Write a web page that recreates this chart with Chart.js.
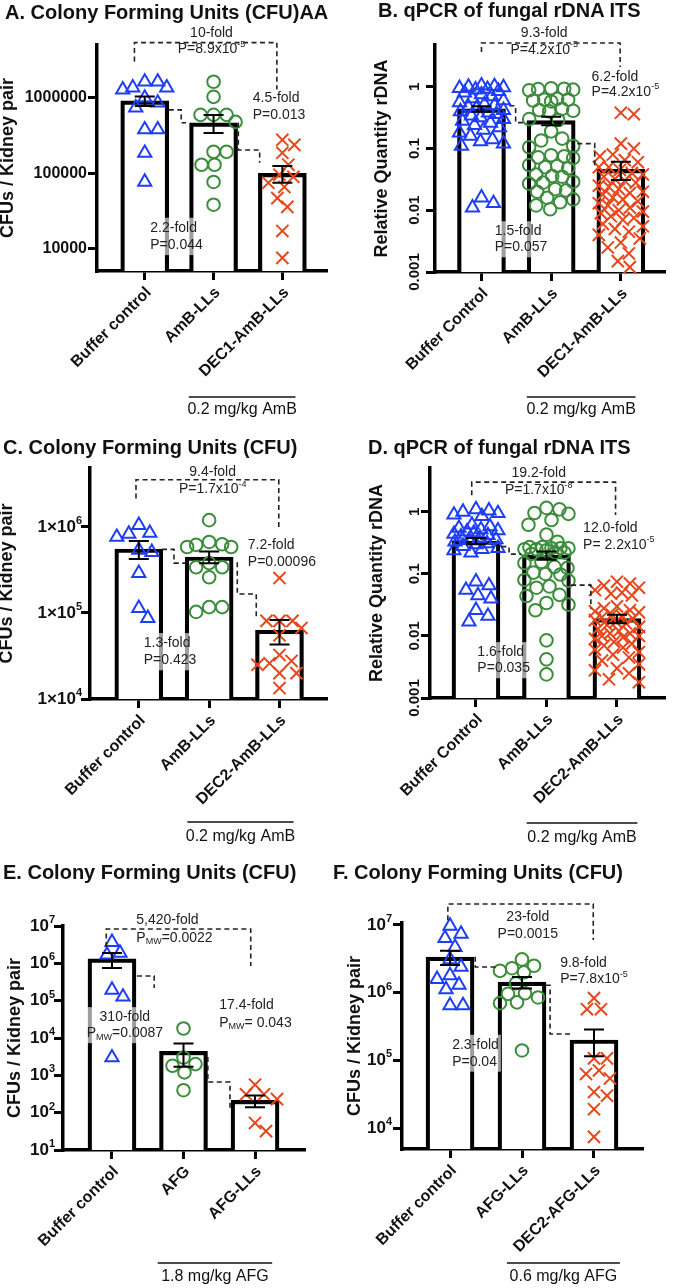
<!DOCTYPE html>
<html>
<head>
<meta charset="utf-8">
<script src="https://cdn.jsdelivr.net/npm/chart.js@4.4.0/dist/chart.umd.min.js"></script>
<style>
  body { margin:0; background:#fff; width:675px; height:1288px; position:relative; overflow:hidden;
         font-family:"Liberation Sans", Arial, sans-serif; }
  canvas { position:absolute; }
  .ttl { position:absolute; z-index:2; font-weight:bold; font-size:20px; line-height:20px; color:#111; white-space:nowrap; }
</style>
</head>
<body>
<div class="ttl" style="left:5px;top:2px">A. Colony Forming Units (CFU)AA</div>
<div class="ttl" style="left:378px;top:0px">B. qPCR of fungal rDNA ITS</div>
<div class="ttl" style="left:3px;top:437px">C. Colony Forming Units (CFU)</div>
<div class="ttl" style="left:368px;top:437px">D. qPCR of fungal rDNA ITS</div>
<div class="ttl" style="left:3px;top:862px">E. Colony Forming Units (CFU)</div>
<div class="ttl" style="left:333px;top:862px">F. Colony Forming Units (CFU)</div>
<script>
// ---- data ----
const catsA = ['Buffer control', 'AmB-LLs', 'DEC1-AmB-LLs'];
const blueA = [1.63e6, 1.63e6, 1.36e6, 1.36e6, 1.28e6, 1.0e6, 8.6e5, 7.4e5, 3.8e5, 3.8e5, 1.86e5, 7.7e4];
const greenA = [1.63e6, 1.03e6, 5.95e5, 5.95e5, 5.95e5, 4.8e5, 1.93e5, 1.93e5, 1.3e5, 1.3e5, 7.7e4, 3.85e4];
const redA = [2.78e5, 2.38e5, 1.87e5, 1.3e5, 9.6e4, 9.0e4, 7.5e4, 6.6e4, 4.7e4, 3.6e4, 1.73e4, 7.6e3];
const meanA = [9.1e5, 4.66e5, 1.0e5];
const semA = [1.3e5, 1.25e5, 2.5e4];
const yTicksA = [1e4, 1e5, 1e6];

const catsB = ['Buffer Control', 'AmB-LLs', 'DEC1-AmB-LLs'];
const blueB = [1.05, 1.02, 1.0, 0.98, 0.95, 0.92, 0.9, 0.85, 0.8, 0.75, 0.7, 0.65, 0.6, 0.56, 0.52, 0.5, 0.47, 0.45,
  0.42, 0.4, 0.38, 0.36, 0.34, 0.32, 0.3, 0.28, 0.26, 0.24, 0.22, 0.2, 0.18, 0.16, 0.14, 0.13, 0.12, 0.11, 0.016, 0.013, 0.011];
const greenB = [0.95, 0.93, 0.92, 0.9, 0.88, 0.64, 0.62, 0.62, 0.6, 0.58, 0.44, 0.42, 0.41, 0.4, 0.3, 0.29, 0.19, 0.145,
  0.135, 0.11, 0.105, 0.078, 0.075, 0.072, 0.07, 0.054, 0.052, 0.05, 0.048, 0.038, 0.036, 0.035, 0.029, 0.028, 0.027,
  0.022, 0.021, 0.02, 0.016, 0.015, 0.0135, 0.012, 0.0104];
const redB = [0.38, 0.36, 0.12, 0.1, 0.08, 0.075, 0.065, 0.06, 0.05, 0.05, 0.045, 0.04, 0.038, 0.035, 0.032, 0.03, 0.028,
  0.025, 0.024, 0.022, 0.02, 0.019, 0.018, 0.016, 0.015, 0.014, 0.013, 0.012, 0.011, 0.01, 0.0095, 0.009, 0.008, 0.0075,
  0.007, 0.006, 0.0055, 0.005, 0.0045, 0.004, 0.0035, 0.003, 0.0025, 0.002, 0.0015, 0.0012];
const meanB = [0.44, 0.283, 0.046];
const semB = [0.045, 0.045, 0.015];
const yTicksB = [0.001, 0.01, 0.1, 1];

const catsC = ['Buffer control', 'AmB-LLs', 'DEC2-AmB-LLs'];
const blueC = [1.05e6, 8.5e5, 8.3e5, 7.65e5, 5.4e5, 5.1e5, 2.9e5, 1.14e5, 8.7e4];
const greenC = [1.2e6, 6.7e5, 6.3e5, 6.2e5, 5.85e5, 5.85e5, 3.8e5, 3.4e5, 3.4e5, 2.6e5, 1.17e5, 1.17e5, 1.03e5];
const redC = [2.55e5, 8.1e4, 8.1e4, 8.1e4, 6.7e4, 5.5e4, 3.25e4, 2.77e4, 2.6e4, 2.5e4, 2.0e4, 2.0e4, 1.34e4];
const meanC = [5.55e5, 4.48e5, 6.3e4];
const semC = [1.3e5, 7.0e4, 2.0e4];
const yTicksC = [1e4, 1e5, 1e6];

const catsD = ['Buffer Control', 'AmB-LLs', 'DEC2-AmB-LLs'];
const blueD = [1.1, 1.05, 1.0, 0.95, 0.9, 0.85, 0.62, 0.58, 0.55, 0.52, 0.5, 0.48, 0.46, 0.44, 0.42, 0.4, 0.38, 0.36,
  0.35, 0.33, 0.31, 0.3, 0.28, 0.26, 0.25, 0.24, 0.22, 0.075, 0.065, 0.055, 0.045, 0.04, 0.026, 0.021, 0.017];
const greenD = [1.16, 1.1, 0.96, 0.93, 0.74, 0.62, 0.43, 0.33, 0.27, 0.27, 0.26, 0.26, 0.26, 0.25, 0.25, 0.24, 0.22,
  0.22, 0.21, 0.156, 0.15, 0.13, 0.125, 0.105, 0.1, 0.098, 0.08, 0.078, 0.063, 0.06, 0.046, 0.044, 0.034, 0.032, 0.026,
  0.0085, 0.0042, 0.0024];
const redD = [0.075, 0.07, 0.065, 0.06, 0.055, 0.05, 0.048, 0.045, 0.03, 0.028, 0.026, 0.025, 0.024, 0.022, 0.021, 0.02,
  0.019, 0.018, 0.017, 0.016, 0.015, 0.014, 0.013, 0.012, 0.011, 0.011, 0.01, 0.01, 0.0095, 0.009, 0.008, 0.0075, 0.007,
  0.0065, 0.006, 0.0055, 0.005, 0.0045, 0.004, 0.0035, 0.003, 0.0028, 0.0025, 0.002, 0.0018];
const meanD = [0.34, 0.2, 0.019];
const semD = [0.04, 0.03, 0.003];
const yTicksD = [0.001, 0.01, 0.1, 1];

const catsE = ['Buffer control', 'AFG', 'AFG-LLs'];
const blueE = [3.7e6, 1.9e6, 1.7e6, 1.95e5, 1.27e5, 3.0e3];
const greenE = [1.8e4, 3.0e3, 2.0e3, 1.8e3, 1.2e3, 400];
const redE = [560, 310, 310, 230, 53, 32];
const meanE = [1.32e6, 4.4e3, 215];
const semE = [5.7e5, 2.7e3, 75];
const yTicksE = [1e1, 1e2, 1e3, 1e4, 1e5, 1e6, 1e7];

const catsF = ['Buffer control', 'AFG-LLs', 'DEC2-AFG-LLs'];
const blueF = [9.7e6, 7.4e6, 6.4e6, 4.7e6, 3.1e6, 2.4e6, 1.8e6, 1.58e6, 1.3e6, 1.12e6, 6.5e5, 6.5e5];
const greenF = [3.1e6, 2.5e6, 2.3e6, 2.1e6, 2.0e6, 1.38e6, 9.8e5, 9.6e5, 8.5e5, 7.2e5, 7.0e5, 1.4e5];
const redF = [8.3e5, 5.7e5, 5.7e5, 1.07e5, 1.07e5, 7.1e4, 6.3e4, 5.4e4, 3.4e4, 3.0e4, 1.9e4, 7.4e3];
const meanF = [3.36e6, 1.43e6, 2.0e5];
const semF = [8.0e5, 2.8e5, 8.5e4];
const yTicksF = [1e4, 1e5, 1e6, 1e7];

// ---- look ----
const FONT = '"Liberation Sans", Arial, Helvetica, sans-serif';
const INK = '#111';
const MARKS = [
  {style: 'triangle', color: '#1e3ef6', r: 7.6},
  {style: 'circle', color: '#3b8d3b', r: 6.3},
  {style: 'crossRot', color: '#e6471c', r: 8.6}
];
const YW = 9, XH = 12;
Chart.defaults.font.family = FONT;

// panel layout + annotations; annotation y values are log10 of the data value
const panels = [
  {box: [0, 0, 337, 420], area: [97, 45, 337, 271], xr: [-0.694, 2.64], yr: [5.1e3, 5.0e6],
   cats: catsA, groups: [blueA, greenA, redA], means: meanA, sems: semA, ticks: yTicksA, fmt: 'plain', labOff: 10,
   yTitle: 'CFUs / Kidney pair', titleOff: 89,
   lines: [[[-0.15, 6.48], [-0.15, 6.73], [1.92, 6.73], [1.92, 6.11]],
           [[0.35, 5.84], [0.53, 5.84], [0.53, 5.67], [0.6, 5.67]],
           [[1.36, 5.67], [1.36, 5.31], [1.67, 5.31], [1.67, 5.14]]],
   texts: [{x: 0.97, y: [6.86, 6.64], t: ['10-fold', 'P=8.9x10^{-5}'], al: 'center'},
           {x: 1.57, y: [6.0, 5.77], t: ['4.5-fold', 'P=0.013'], al: 'left'},
           {x: 0.08, y: [4.28, 4.05], t: ['2.2-fold', 'P=0.044'], al: 'left', box: 1}],
   dose: {x: [0.64, 2.19], dl: 126, dt: 139, t: '0.2 mg/kg AmB'}},
  {box: [337, 0, 338, 420], area: [435, 45, 672, 272], xr: [-0.667, 2.625], yr: [1e-3, 4.76],
   cats: catsB, groups: [blueB, greenB, redB], means: meanB, sems: semB, ticks: yTicksB, fmt: 'rot', labOff: 20,
   yTitle: 'Relative Quantity rDNA', titleOff: 53,
   lines: [[[0, 0.565], [0, 0.71], [1.99, 0.71], [1.99, 0.32]],
           [[0.4, -0.306], [0.49, -0.306], [0.49, -0.58], [0.68, -0.58]],
           [[1.375, -0.92], [1.625, -0.92], [1.625, -1.31]]],
   texts: [{x: 0.9, y: [0.87, 0.6], t: ['9.3-fold', 'P=4.2x10^{-5}'], al: 'center'},
           {x: 1.58, y: [0.16, -0.08], t: ['6.2-fold', 'P=4.2x10^{-5}'], al: 'left'},
           {x: 0.19, y: [-2.34, -2.6], t: ['1.5-fold', 'P=0.057'], al: 'left', box: 1}],
   dose: {x: [0.65, 2.21], dl: 125, dt: 138, t: '0.2 mg/kg AmB'}},
  {box: [0, 420, 337, 430], area: [90, 468, 337, 699], xr: [-0.694, 2.667], yr: [1e4, 4.85e6],
   cats: catsC, groups: [blueC, greenC, redC], means: meanC, sems: semC, ticks: yTicksC, fmt: 'sci', labOff: 8,
   yTitle: 'CFUs / Kidney pair', titleOff: 83,
   lines: [[[-0.04, 6.33], [-0.04, 6.55], [1.99, 6.55], [1.99, 5.99]],
           [[0.33, 5.74], [0.5, 5.74], [0.5, 5.58], [0.67, 5.58]],
           [[1.4, 5.59], [1.4, 5.22], [1.67, 5.22], [1.67, 4.94]]],
   texts: [{x: 1.05, y: [6.64, 6.44], t: ['9.4-fold', 'P=1.7x10^{-4}'], al: 'center'},
           {x: 1.55, y: [5.79, 5.59], t: ['7.2-fold', 'P=0.00096'], al: 'left'},
           {x: 0.07, y: [4.65, 4.45], t: ['1.3-fold', 'P=0.423'], al: 'left', box: 1}],
   dose: {x: [0.69, 2.2], dl: 123, dt: 138, t: '0.2 mg/kg AmB'}},
  {box: [337, 420, 338, 430], area: [430, 468, 667, 698], xr: [-0.652, 2.673], yr: [1e-3, 5.1],
   cats: catsD, groups: [blueD, greenD, redD], means: meanD, sems: semD, ticks: yTicksD, fmt: 'rot', labOff: 15,
   yTitle: 'Relative Quantity rDNA', titleOff: 53,
   lines: [[[-0.06, 0.27], [-0.06, 0.48], [1.98, 0.48], [1.98, -0.05]],
           [[0.36, -0.56], [0.47, -0.56], [0.47, -0.68], [0.64, -0.68]],
           [[1.35, -1.18], [1.63, -1.18], [1.63, -1.56]]],
   texts: [{x: 0.89, y: [0.63, 0.35], t: ['19.2-fold', 'P=1.7x10^{-8}'], al: 'center'},
           {x: 1.52, y: [-0.26, -0.53], t: ['12.0-fold', 'P= 2.2x10^{-5}'], al: 'left'},
           {x: 0.02, y: [-2.26, -2.52], t: ['1.6-fold', 'P=0.035'], al: 'left', box: 1}],
   dose: {x: [0.72, 2.29], dl: 125, dt: 140, t: '0.2 mg/kg AmB'}},
  {box: [0, 850, 337, 438], area: [63, 926, 304, 1150], xr: [-0.685, 2.685], yr: [10, 1e7],
   cats: catsE, groups: [blueE, greenE, redE], means: meanE, sems: semE, ticks: yTicksE, fmt: 'pow', labOff: 8,
   yTitle: 'CFUs / Kidney pair', titleOff: 48,
   lines: [[[-0.08, 6.44], [-0.08, 6.92], [1.94, 6.92], [1.94, 5.93]],
           [[0.35, 5.66], [0.59, 5.66], [0.59, 5.34]],
           [[1.34, 3.49], [1.34, 2.82], [1.65, 2.82], [1.65, 2.07]]],
   texts: [{x: 0.34, y: [7.16, 6.68], t: ['5,420-fold', 'P_{MW}=0.0022'], al: 'left'},
           {x: 0.18, y: [4.56, 4.13], t: ['310-fold', 'P_{MW}=0.0087'], al: 'center', box: 1},
           {x: 1.5, y: [4.88, 4.4], t: ['17.4-fold', 'P_{MW}= 0.043'], al: 'left'}],
   dose: {x: [0.64, 2.24], dl: 113, dt: 127, t: '1.8 mg/kg AFG'}},
  {box: [337, 850, 338, 438], area: [402, 923, 642, 1149], xr: [-0.667, 2.667], yr: [4.9e3, 1.07e7],
   cats: catsF, groups: [blueF, greenF, redF], means: meanF, sems: semF, ticks: yTicksF, fmt: 'pow', labOff: 10,
   yTitle: 'CFUs / Kidney pair', titleOff: 47,
   lines: [[[-0.03, 7.07], [-0.03, 7.31], [1.99, 7.31], [1.99, 6.78]],
           [[0.35, 6.53], [0.35, 6.38], [0.67, 6.38]],
           [[1.33, 6.11], [1.39, 6.11], [1.39, 5.39], [1.67, 5.39]]],
   texts: [{x: 1.08, y: [7.12, 6.87], t: ['23-fold', 'P=0.0015'], al: 'center'},
           {x: 1.53, y: [6.44, 6.2], t: ['9.8-fold', 'P=7.8x10^{-5}'], al: 'left'},
           {x: 0.03, y: [5.23, 4.98], t: ['2.3-fold', 'P=0.04'], al: 'left', box: 1}],
   dose: {x: [0.79, 2.36], dl: 114, dt: 128, t: '0.6 mg/kg AFG'}}
];

// text with ^{sup} and _{sub} runs; returns [left, width]
function rich(ctx, s, x, y, align, size, bold, draw = true) {
  const parts = [];
  const re = /([\^_])\{([^}]*)\}|([^\^_]+)/g;
  let m;
  while ((m = re.exec(s))) parts.push(m[3] ? {t: m[3], k: 0} : {t: m[2], k: m[1] === '^' ? 1 : -1});
  const w8 = bold ? 'bold ' : '';
  const fN = w8 + size + 'px ' + FONT, fS = w8 + Math.round(size * 0.66) + 'px ' + FONT;
  let w = 0;
  parts.forEach(p => { ctx.font = p.k ? fS : fN; p.w = ctx.measureText(p.t).width; w += p.w; });
  let cx = align === 'center' ? x - w / 2 : align === 'right' ? x - w : x;
  const x0 = cx;
  if (draw) {
    ctx.textAlign = 'left';
    ctx.textBaseline = 'middle';
    parts.forEach(p => {
      ctx.font = p.k ? fS : fN;
      ctx.fillText(p.t, cx, y + (p.k === 1 ? -size * 0.36 : p.k === -1 ? size * 0.28 : 0));
      cx += p.w;
    });
  }
  return [x0, w];
}

function makePlugin(p) {
  return {
    id: 'panel',
    afterDatasetsDraw(chart) {
      const {ctx, scales: {x: xs, y: ys}} = chart;
      ctx.save();
      ctx.strokeStyle = '#000';
      ctx.lineWidth = 2;
      p.means.forEach((m, i) => {
        const x = xs.getPixelForValue(i);
        const y1 = ys.getPixelForValue(m + p.sems[i]), y2 = ys.getPixelForValue(m - p.sems[i]);
        ctx.beginPath();
        ctx.moveTo(x, y1); ctx.lineTo(x, y2);
        ctx.moveTo(x - 10, y1); ctx.lineTo(x + 10, y1);
        ctx.moveTo(x - 10, y2); ctx.lineTo(x + 10, y2);
        ctx.stroke();
      });
      ctx.restore();
    },
    afterDraw(chart) {
      const {ctx, chartArea: a, scales: {x: xs, y: ys}} = chart;
      const X = v => xs.getPixelForValue(v);
      const Y = e => ys.getPixelForValue(Math.pow(10, e));
      ctx.save();
      ctx.fillStyle = INK;

      // category labels, slanted 45 degrees, ending at their tick
      ctx.font = 'bold 16px ' + FONT;
      ctx.textAlign = 'right';
      ctx.textBaseline = 'middle';
      p.cats.forEach((c, i) => {
        ctx.save();
        ctx.translate(X(i) + 4, a.bottom + 19);
        ctx.rotate(-Math.PI / 4);
        ctx.fillText(c, 0, 0);
        ctx.restore();
      });

      // y tick labels
      p.ticks.forEach(v => {
        const y = ys.getPixelForValue(v);
        if (p.fmt === 'rot') {
          ctx.save();
          ctx.translate(a.left - p.labOff, y);
          ctx.rotate(-Math.PI / 2);
          ctx.font = 'bold 15px ' + FONT;
          ctx.textAlign = 'center';
          ctx.textBaseline = 'middle';
          ctx.fillText(String(v), 0, 0);
          ctx.restore();
        } else {
          const e = Math.round(Math.log10(v));
          const s = p.fmt === 'plain' ? String(v) : p.fmt === 'sci' ? '1×10^{' + e + '}' : '10^{' + e + '}';
          rich(ctx, s, a.left - p.labOff, y, 'right', p.fmt === 'plain' ? 16 : 17, true);
        }
      });

      // y title
      ctx.save();
      ctx.translate(a.left - p.titleOff, (a.top + a.bottom) / 2);
      ctx.rotate(-Math.PI / 2);
      ctx.font = 'bold 18px ' + FONT;
      ctx.textAlign = 'center';
      ctx.textBaseline = 'middle';
      ctx.fillText(p.yTitle, 0, 0);
      ctx.restore();

      // dashed comparison brackets
      ctx.strokeStyle = '#222';
      ctx.lineWidth = 1.6;
      ctx.setLineDash([5, 3.5]);
      p.lines.forEach(pts => {
        ctx.beginPath();
        pts.forEach(([x, e], i) => (i ? ctx.lineTo(X(x), Y(e)) : ctx.moveTo(X(x), Y(e))));
        ctx.stroke();
      });
      ctx.setLineDash([]);

      // fold / P labels
      p.texts.forEach(tx => {
        const x = X(tx.x);
        const ys2 = tx.y.map(Y);
        if (tx.box) {
          let lo = Infinity, hi = -Infinity;
          tx.t.forEach((s, i) => {
            const [x0, w] = rich(ctx, s, x, ys2[i], tx.al, 14, false, false);
            lo = Math.min(lo, x0); hi = Math.max(hi, x0 + w);
          });
          ctx.fillStyle = 'rgba(255,255,255,0.62)';
          ctx.fillRect(lo - 2, ys2[0] - 10, hi - lo + 4, ys2[1] - ys2[0] + 20);
        }
        ctx.fillStyle = '#222';
        tx.t.forEach((s, i) => rich(ctx, s, x, ys2[i], tx.al, 14, false));
      });

      // dose group line + label
      const d = p.dose;
      ctx.strokeStyle = '#111';
      ctx.lineWidth = 1.4;
      ctx.beginPath();
      ctx.moveTo(X(d.x[0]), a.bottom + d.dl);
      ctx.lineTo(X(d.x[1]), a.bottom + d.dl);
      ctx.stroke();
      ctx.fillStyle = INK;
      ctx.font = '16px ' + FONT;
      ctx.textAlign = 'center';
      ctx.textBaseline = 'middle';
      ctx.fillText(d.t, (X(d.x[0]) + X(d.x[1])) / 2, a.bottom + d.dt);
      ctx.restore();
    }
  };
}

// spread points sideways like a bee swarm, in pixel space
function swarm(chart, p) {
  const xs = chart.scales.x, ys = chart.scales.y;
  const unit = xs.getPixelForValue(1) - xs.getPixelForValue(0);
  const gap = 13, spread = 22;
  p.groups.forEach((vals, g) => {
    const py = vals.map(v => ys.getPixelForValue(v));
    const order = vals.map((_, i) => i).sort((a, b) => py[a] - py[b]);
    const placed = [], off = new Array(vals.length).fill(0);
    order.forEach(i => {
      let best = 0, bestD = -1;
      for (let k = 0; k <= 2 * spread; k++) {
        const dx = (k % 2 ? 1 : -1) * Math.ceil(k / 2);
        let dmin = Infinity;
        placed.forEach(q => { dmin = Math.min(dmin, Math.hypot(dx - q[0], py[i] - q[1])); });
        if (dmin >= gap) { best = dx; break; }
        if (dmin > bestD) { bestD = dmin; best = dx; }
      }
      off[i] = best;
      placed.push([best, py[i]]);
    });
    chart.data.datasets[g + 1].data = vals.map((v, i) => ({x: g + off[i] / unit, y: v}));
  });
  chart.update('none');
}

panels.forEach(p => {
  const [cx, cy, cw, ch] = p.box;
  const [l, t, r, b] = p.area;
  const cv = document.createElement('canvas');
  cv.width = cw; cv.height = ch;
  cv.style.left = cx + 'px'; cv.style.top = cy + 'px';
  document.body.appendChild(cv);

  const datasets = [{
    type: 'bar',
    data: p.means.map((m, i) => ({x: i, y: m})),
    backgroundColor: '#fff', borderColor: '#000', borderWidth: 4.2,
    borderSkipped: 'start', barThickness: 48, order: 5
  }].concat(p.groups.map((vals, g) => ({
    type: 'scatter',
    data: vals.map(v => ({x: g, y: v})),
    pointStyle: MARKS[g].style, pointRadius: MARKS[g].r, pointBorderWidth: 2,
    borderColor: MARKS[g].color, backgroundColor: 'rgba(0,0,0,0)', clip: false, order: 1
  })));

  const chart = new Chart(cv, {
    type: 'bar',
    data: {datasets},
    plugins: [makePlugin(p)],
    options: {
      responsive: false, animation: false, devicePixelRatio: 1, events: [],
      layout: {padding: {left: l - cx - YW, top: t - cy, right: cx + cw - r, bottom: cy + ch - b - XH}},
      plugins: {legend: {display: false}, tooltip: {enabled: false}},
      scales: {
        x: {
          type: 'linear', min: p.xr[0], max: p.xr[1], bounds: 'data', offset: false,
          afterBuildTicks: s => { s.ticks = p.cats.map((_, i) => ({value: i})); },
          afterFit: s => { s.height = XH; },
          ticks: {display: false},
          grid: {offset: false, drawOnChartArea: false, drawTicks: true, tickLength: 9, color: '#000', lineWidth: 3},
          border: {display: true, color: '#000', width: 3.5}
        },
        y: {
          type: 'logarithmic', min: p.yr[0], max: p.yr[1],
          afterBuildTicks: s => { s.ticks = p.ticks.map(v => ({value: v})); },
          afterFit: s => { s.width = YW; },
          ticks: {display: false},
          grid: {drawOnChartArea: false, drawTicks: true, tickLength: 9, color: '#000', lineWidth: 3},
          border: {display: true, color: '#000', width: 3.5}
        }
      }
    }
  });
  swarm(chart, p);
});
</script>
</body>
</html>
